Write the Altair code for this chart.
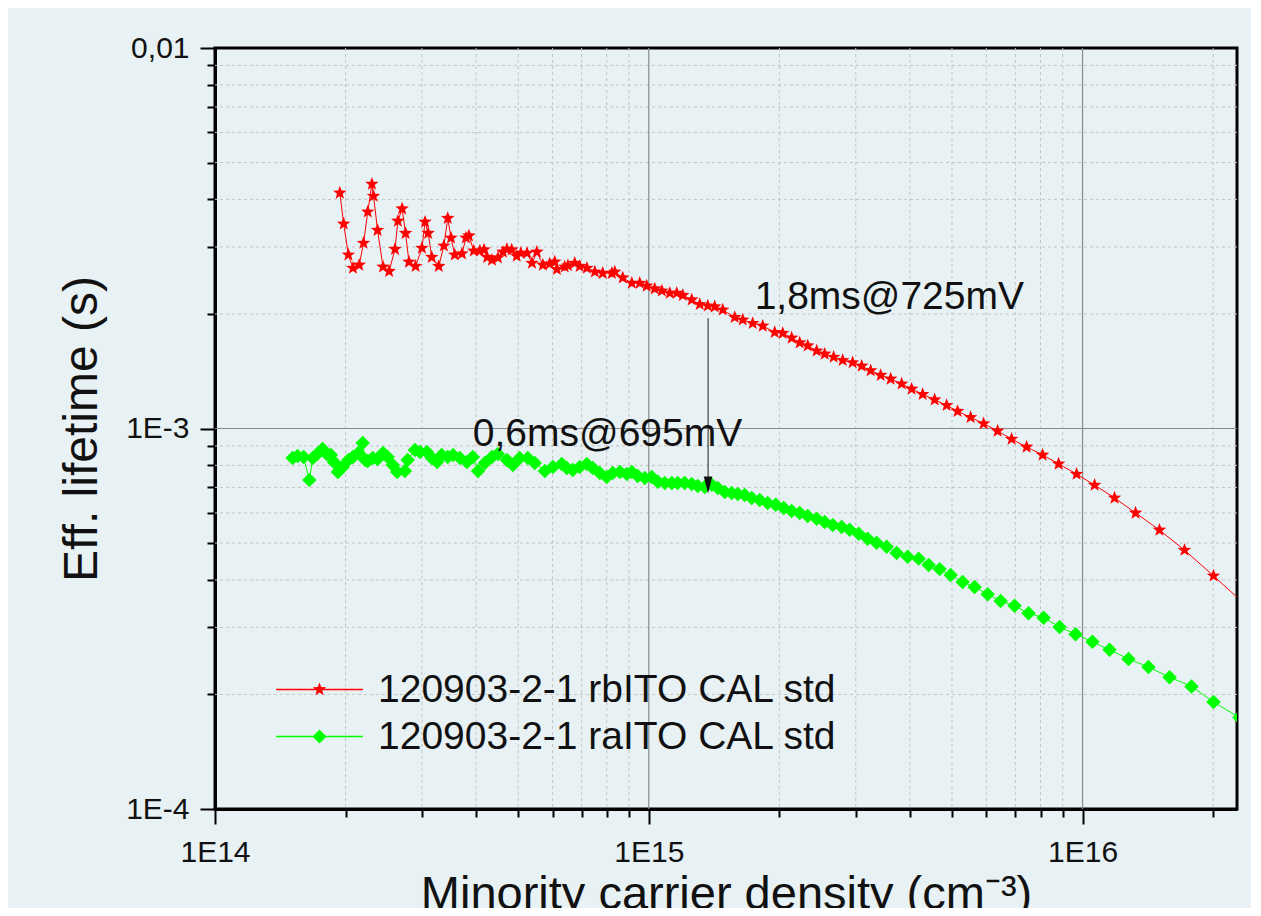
import altair as alt
import pandas as pd

# ---------------- data ----------------
series_names = ["120903-2-1 rbITO CAL std", "120903-2-1 raITO CAL std"]
series_colors = ["#FF0000", "#00FF00"]

red_x = [1.94e14, 1.98e14, 2.03e14, 2.08e14, 2.15e14, 2.20e14, 2.25e14, 2.30e14, 2.32e14, 2.37e14,
         2.44e14, 2.52e14, 2.60e14, 2.64e14, 2.70e14, 2.75e14, 2.80e14, 2.90e14, 3.00e14, 3.05e14,
         3.10e14, 3.16e14, 3.28e14, 3.37e14, 3.44e14, 3.50e14, 3.57e14, 3.71e14, 3.79e14, 3.85e14,
         3.95e14, 4.08e14, 4.17e14, 4.24e14, 4.35e14, 4.49e14, 4.61e14, 4.71e14, 4.83e14, 4.96e14,
         5.07e14, 5.24e14, 5.38e14, 5.52e14, 5.70e14, 5.91e14, 6.07e14, 6.14e14, 6.40e14, 6.51e14,
         6.75e14, 6.93e14, 7.20e14, 7.51e14, 7.83e14, 8.22e14, 8.35e14, 8.71e14, 9.14e14, 9.53e14,
         9.89e14, 1.032e15, 1.072e15, 1.118e15, 1.160e15, 1.198e15, 1.256e15, 1.311e15, 1.368e15, 1.419e15,
         1.481e15, 1.578e15, 1.647e15, 1.736e15, 1.831e15, 1.951e15, 2.036e15, 2.135e15, 2.228e15, 2.325e15,
         2.438e15, 2.544e15, 2.668e15, 2.799e15, 2.951e15, 3.096e15, 3.247e15, 3.424e15, 3.611e15, 3.828e15,
         4.036e15, 4.279e15, 4.560e15, 4.860e15, 5.152e15, 5.520e15, 5.914e15, 6.370e15, 6.862e15, 7.430e15,
         8.088e15, 8.806e15, 9.687e15, 1.066e16, 1.185e16, 1.325e16, 1.504e16, 1.718e16, 2.004e16, 2.400e16]
red_y = [4.16e-3, 3.45e-3, 2.86e-3, 2.64e-3, 2.69e-3, 3.07e-3, 3.71e-3, 4.39e-3, 4.08e-3, 3.32e-3,
         2.66e-3, 2.59e-3, 2.96e-3, 3.51e-3, 3.78e-3, 3.26e-3, 2.74e-3, 2.67e-3, 2.98e-3, 3.49e-3,
         3.26e-3, 2.82e-3, 2.67e-3, 3.02e-3, 3.57e-3, 3.17e-3, 2.86e-3, 2.88e-3, 3.17e-3, 3.21e-3,
         2.93e-3, 2.93e-3, 2.95e-3, 2.82e-3, 2.77e-3, 2.81e-3, 2.91e-3, 2.96e-3, 2.95e-3, 2.84e-3,
         2.89e-3, 2.89e-3, 2.72e-3, 2.91e-3, 2.69e-3, 2.71e-3, 2.74e-3, 2.62e-3, 2.66e-3, 2.68e-3,
         2.72e-3, 2.67e-3, 2.64e-3, 2.58e-3, 2.56e-3, 2.56e-3, 2.58e-3, 2.49e-3, 2.41e-3, 2.41e-3,
         2.37e-3, 2.33e-3, 2.30e-3, 2.27e-3, 2.27e-3, 2.24e-3, 2.18e-3, 2.12e-3, 2.10e-3, 2.09e-3,
         2.05e-3, 1.96e-3, 1.93e-3, 1.89e-3, 1.86e-3, 1.79e-3, 1.78e-3, 1.73e-3, 1.68e-3, 1.65e-3,
         1.60e-3, 1.57e-3, 1.54e-3, 1.51e-3, 1.49e-3, 1.46e-3, 1.42e-3, 1.38e-3, 1.35e-3, 1.31e-3,
         1.27e-3, 1.23e-3, 1.19e-3, 1.15e-3, 1.11e-3, 1.07e-3, 1.03e-3, 9.85e-4, 9.38e-4, 8.94e-4,
         8.52e-4, 8.07e-4, 7.59e-4, 7.10e-4, 6.57e-4, 6.00e-4, 5.41e-4, 4.79e-4, 4.10e-4, 3.40e-4]

green_x = [1.51e14, 1.55e14, 1.60e14, 1.65e14, 1.68e14, 1.72e14, 1.77e14, 1.81e14, 1.85e14, 1.88e14,
           1.92e14, 1.97e14, 2.03e14, 2.08e14, 2.14e14, 2.19e14, 2.22e14, 2.25e14, 2.31e14, 2.37e14,
           2.44e14, 2.50e14, 2.57e14, 2.63e14, 2.74e14, 2.78e14, 2.89e14, 2.97e14, 3.08e14, 3.16e14,
           3.25e14, 3.33e14, 3.44e14, 3.54e14, 3.67e14, 3.81e14, 3.93e14, 4.04e14, 4.19e14, 4.35e14,
           4.49e14, 4.71e14, 4.86e14, 5.04e14, 5.26e14, 5.46e14, 5.76e14, 6.01e14, 6.30e14, 6.47e14,
           6.68e14, 6.93e14, 7.20e14, 7.43e14, 7.71e14, 8.00e14, 8.26e14, 8.58e14, 8.90e14, 9.14e14,
           9.43e14, 9.79e14, 1.016e15, 1.049e15, 1.089e15, 1.130e15, 1.166e15, 1.210e15, 1.256e15, 1.297e15,
           1.346e15, 1.397e15, 1.442e15, 1.497e15, 1.553e15, 1.604e15, 1.664e15, 1.727e15, 1.802e15, 1.880e15,
           1.962e15, 2.047e15, 2.135e15, 2.228e15, 2.325e15, 2.438e15, 2.544e15, 2.655e15, 2.784e15, 2.905e15,
           3.047e15, 3.196e15, 3.352e15, 3.535e15, 3.728e15, 3.952e15, 4.190e15, 4.419e15, 4.684e15, 4.965e15,
           5.290e15, 5.638e15, 6.041e15, 6.474e15, 6.971e15, 7.509e15, 8.131e15, 8.851e15, 9.636e15, 1.054e16,
           1.154e16, 1.276e16, 1.419e16, 1.587e16, 1.783e16, 2.004e16, 2.300e16]
green_y = [8.37e-4, 8.47e-4, 8.42e-4, 7.32e-4, 8.37e-4, 8.57e-4, 8.83e-4, 8.57e-4, 8.52e-4, 8.17e-4,
           7.69e-4, 7.92e-4, 8.27e-4, 8.42e-4, 8.62e-4, 9.16e-4, 8.27e-4, 8.22e-4, 8.37e-4, 8.32e-4,
           8.62e-4, 8.42e-4, 8.02e-4, 7.69e-4, 7.73e-4, 8.27e-4, 8.78e-4, 8.68e-4, 8.68e-4, 8.37e-4,
           8.17e-4, 8.52e-4, 8.42e-4, 8.52e-4, 8.37e-4, 8.17e-4, 8.42e-4, 7.73e-4, 8.12e-4, 8.42e-4,
           8.57e-4, 8.27e-4, 8.02e-4, 8.37e-4, 8.37e-4, 8.12e-4, 7.73e-4, 7.92e-4, 8.07e-4, 7.87e-4,
           7.78e-4, 7.92e-4, 8.07e-4, 7.87e-4, 7.64e-4, 7.46e-4, 7.64e-4, 7.69e-4, 7.59e-4, 7.69e-4,
           7.50e-4, 7.41e-4, 7.46e-4, 7.24e-4, 7.19e-4, 7.19e-4, 7.19e-4, 7.19e-4, 7.15e-4, 7.06e-4,
           7.02e-4, 7.11e-4, 6.98e-4, 6.81e-4, 6.77e-4, 6.73e-4, 6.69e-4, 6.57e-4, 6.49e-4, 6.37e-4,
           6.30e-4, 6.18e-4, 6.07e-4, 6.00e-4, 5.89e-4, 5.79e-4, 5.68e-4, 5.58e-4, 5.51e-4, 5.42e-4,
           5.29e-4, 5.13e-4, 5.01e-4, 4.89e-4, 4.71e-4, 4.60e-4, 4.55e-4, 4.38e-4, 4.27e-4, 4.12e-4,
           3.95e-4, 3.83e-4, 3.67e-4, 3.52e-4, 3.42e-4, 3.27e-4, 3.18e-4, 3.01e-4, 2.88e-4, 2.75e-4,
           2.62e-4, 2.48e-4, 2.36e-4, 2.22e-4, 2.10e-4, 1.91e-4, 1.74e-4]

ann_text = ["1,8ms@725mV", "0,6ms@695mV"]
ann_x = [1.754e15, 3.93e14]
ann_y = [2.06e-3, 8.99e-4]

arrow_x = [1.37e15]
arrow_y_start = [1.95e-3]
arrow_y_head = [7.1e-4]

x_domain = [1e14, 2.27e16]
y_domain = [1e-4, 1e-2]

x_tick_values = [1e14, 2e14, 3e14, 4e14, 5e14, 6e14, 7e14, 8e14, 9e14,
                 1e15, 2e15, 3e15, 4e15, 5e15, 6e15, 7e15, 8e15, 9e15, 1e16, 2e16]
x_label_values = [1e14, 1e15, 1e16]
x_label_texts = ["1E14", "1E15", "1E16"]
y_tick_values = [1e-4, 2e-4, 3e-4, 4e-4, 5e-4, 6e-4, 7e-4, 8e-4, 9e-4,
                 1e-3, 2e-3, 3e-3, 4e-3, 5e-3, 6e-3, 7e-3, 8e-3, 9e-3, 1e-2]
y_label_values = [1e-4, 1e-3, 1e-2]
y_label_texts = ["1E-4", "1E-3", "0,01"]

x_grid_major = [1e15, 1e16]
x_grid_minor = [2e14, 3e14, 4e14, 5e14, 6e14, 7e14, 8e14, 9e14,
                2e15, 3e15, 4e15, 5e15, 6e15, 7e15, 8e15, 9e15, 2e16]
y_grid_major = [1e-3]
y_grid_minor = [2e-4, 3e-4, 4e-4, 5e-4, 6e-4, 7e-4, 8e-4, 9e-4,
                2e-3, 3e-3, 4e-3, 5e-3, 6e-3, 7e-3, 8e-3, 9e-3]

# ---------------- styling ----------------
FONT = "Liberation Sans, Arial, sans-serif"
TXT = "#111111"
BG = "#E8F1F4"
STAR = ("M0,-1L0.2469,-0.3398L0.9511,-0.309L0.3995,0.1298L0.5878,0.809L0,0.42"
        "L-0.5878,0.809L-0.3995,0.1298L-0.9511,-0.309L-0.2469,-0.3398Z")
DIAMOND = "M0,-1L1,0L0,1L-1,0Z"
LEG_LINE = "M-6.2,-0.09L6.2,-0.09L6.2,0.09L-6.2,0.09Z"
HEAD = "M-0.5,-1L0.5,-1L0,1Z"


def label_expr(values, texts):
    expr = "''"
    for v, t in reversed(list(zip(values, texts))):
        expr = f"datum.value == {v!r} ? '{t}' : ({expr})"
    return expr


def major_test(values):
    return " || ".join(f"datum.value == {v!r}" for v in values)


xs = alt.Scale(type="log", domain=x_domain, nice=False)
ys = alt.Scale(type="log", domain=y_domain, nice=False)

x_axis = alt.Axis(
    values=x_tick_values, labelExpr=label_expr(x_label_values, x_label_texts),
    tickSize={"condition": {"test": major_test(x_label_values), "value": 15}, "value": 8},
    tickWidth=2, tickColor="black", domainColor="black", domainWidth=3, grid=False,
    labelFont=FONT, labelFontSize=30, labelColor=TXT, labelPadding=13,
    labelFlush=False, labelOverlap=False,
    title="Minority carrier density (cm⁻³)", titleFont=FONT, titleFontSize=47,
    titleFontWeight="normal", titleColor=TXT, titlePadding=4,
)
y_axis = alt.Axis(
    values=y_tick_values, labelExpr=label_expr(y_label_values, y_label_texts),
    tickSize={"condition": {"test": major_test(y_label_values), "value": 15}, "value": 8},
    tickWidth=2, tickColor="black", domainColor="black", domainWidth=3, grid=False,
    labelFont=FONT, labelFontSize=30, labelColor=TXT, labelPadding=11,
    labelFlush=False, labelOverlap=False,
    title="Eff. lifetime (s)", titleFont=FONT, titleFontSize=48,
    titleFontWeight="normal", titleColor=TXT, titlePadding=19,
)

X = alt.X("x:Q", scale=xs, axis=x_axis)
Y = alt.Y("y:Q", scale=ys, axis=y_axis)

red_df = pd.DataFrame({"x": red_x, "y": red_y})
green_df = pd.DataFrame({"x": green_x, "y": green_y})

gx_minor = alt.Chart(pd.DataFrame({"x": x_grid_minor})).mark_rule(
    color="#C4C4C4", strokeDash=[3, 3], strokeWidth=1).encode(x=X)
gy_minor = alt.Chart(pd.DataFrame({"y": y_grid_minor})).mark_rule(
    color="#C4C4C4", strokeDash=[3, 3], strokeWidth=1).encode(y=Y)
gx_major = alt.Chart(pd.DataFrame({"x": x_grid_major})).mark_rule(
    color="#8A8A8A", strokeWidth=1.2).encode(x=X)
gy_major = alt.Chart(pd.DataFrame({"y": y_grid_major})).mark_rule(
    color="#8A8A8A", strokeWidth=1.2).encode(y=Y)

red_line = alt.Chart(red_df).mark_line(color=series_colors[0], strokeWidth=1, clip=True).encode(x=X, y=Y)
red_pts = alt.Chart(red_df).mark_point(shape=STAR, size=200, filled=True, color=series_colors[0],
                                       opacity=1, strokeWidth=0, clip=True).encode(x=X, y=Y)
green_line = alt.Chart(green_df).mark_line(color=series_colors[1], strokeWidth=1, clip=True).encode(x=X, y=Y)
green_pts = alt.Chart(green_df).mark_point(shape=DIAMOND, size=210, filled=True, color=series_colors[1],
                                           opacity=1, strokeWidth=0, clip=True).encode(x=X, y=Y)

arrow_df = pd.DataFrame({"x": arrow_x, "y": arrow_y_start, "y2": arrow_y_head})
arrow_rule = alt.Chart(arrow_df).mark_rule(color="#222222", strokeWidth=1).encode(x=X, y=Y, y2="y2:Q")
head_df = pd.DataFrame({"x": arrow_x, "y": arrow_y_head})
arrow_head = alt.Chart(head_df).mark_point(shape=HEAD, size=289, filled=True, color="#111111",
                                           opacity=1, strokeWidth=0).encode(x=X, y=Y)

ann_df = pd.DataFrame({"x": ann_x, "y": ann_y, "label": ann_text})
ann = alt.Chart(ann_df).mark_text(align="left", baseline="alphabetic", font=FONT, fontSize=39,
                                  color=TXT).encode(x=X, y=Y, text="label:N")

leg = alt.Legend(orient="none", legendX=85, legendY=622, title=None, symbolSize=196,
                 labelFont=FONT, labelFontSize=39, labelColor=TXT, labelOffset=39,
                 labelLimit=900, rowPadding=7, padding=0, symbolStrokeWidth=0, symbolOpacity=1)
legend_df = pd.DataFrame({"series": series_names, "x": [1e15, 1e15], "y": [1e-3, 1e-3]})
legend_layer = alt.Chart(legend_df).transform_filter("false").mark_point(
    filled=True, opacity=1, strokeWidth=0).encode(
    x=X, y=Y,
    color=alt.Color("series:N", scale=alt.Scale(domain=series_names, range=series_colors), legend=leg),
    shape=alt.Shape("series:N", scale=alt.Scale(domain=series_names,
                                                range=[LEG_LINE + STAR, LEG_LINE + DIAMOND]), legend=leg),
)

chart = alt.layer(
    gx_minor, gy_minor, gx_major, gy_major,
    red_line, green_line, red_pts, green_pts,
    arrow_rule, arrow_head, ann, legend_layer,
).properties(
    width=1022, height=761,
    autosize=alt.AutoSizeParams(type="none"),
    padding={"left": 207, "top": 40, "right": 14, "bottom": 99},
).configure(
    background=BG,
).configure_view(
    stroke="black", strokeWidth=3,
)

chart.save("out.html", embed_options={"renderer": "svg", "actions": False})
